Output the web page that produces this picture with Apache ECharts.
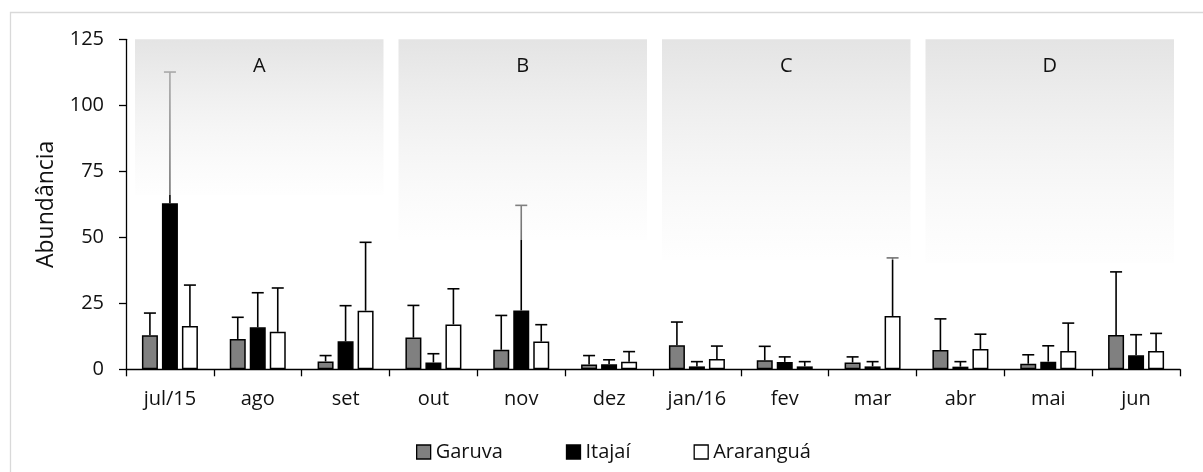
<!DOCTYPE html>
<html>
<head>
<meta charset="utf-8">
<script src="https://cdn.jsdelivr.net/npm/echarts@6/dist/echarts.min.js"></script>
<style>
  html, body { margin: 0; padding: 0; background: #fff; }
  #chart { width: 1203px; height: 472px; }
</style>
</head>
<body>
<div id="chart"></div>
<script>
// Monthly abundance (mean and standard deviation) at three sites
const categories = ['jul/15', 'ago', 'set', 'out', 'nov', 'dez', 'jan/16', 'fev', 'mar', 'abr', 'mai', 'jun'];
const seriesNames = ['Garuva', 'Itajaí', 'Araranguá'];

const garuvaMean    = [12.9, 11.5, 3.0, 12.0, 7.4, 1.8, 9.1, 3.4, 2.6, 7.3, 2.1, 13.0];
const garuvaSD      = [8.4, 8.2, 2.2, 12.2, 13.0, 3.4, 8.8, 5.3, 2.1, 11.8, 3.4, 23.9];
const itajaiMean    = [62.9, 15.9, 10.6, 2.6, 22.3, 1.9, 1.1, 2.8, 1.1, 1.0, 2.9, 5.3];
const itajaiSD      = [49.7, 13.1, 13.5, 3.3, 39.8, 1.7, 1.8, 1.9, 1.8, 1.9, 6.0, 7.8];
const araranguaMean = [16.4, 14.2, 22.2, 17.0, 10.5, 2.9, 3.9, 1.1, 20.2, 7.7, 6.9, 6.9];
const araranguaSD   = [15.5, 16.6, 25.9, 13.5, 6.4, 3.8, 4.9, 1.8, 22.0, 5.6, 10.6, 6.7];

const yTicks = [0, 25, 50, 75, 100, 125];

// Seasonal groups: first month index, last month index, label
const periods = [
  [0, 2, 'A'],
  [3, 5, 'B'],
  [6, 8, 'C'],
  [9, 11, 'D']
];
// How far down each shaded block reaches (axis units)
const periodFloor = [66, 49, 41.4, 40.3];

const FONT = '"Open Sans", Lato, sans-serif';
const TEXT = '#111111';
const BAR_W = 16;
const BAR_GAP = 4;
const fills = ['#808080', '#000000', '#ffffff'];
const means = [garuvaMean, itajaiMean, araranguaMean];
const sds = [garuvaSD, itajaiSD, araranguaSD];

const chart = echarts.init(document.getElementById('chart'), null, { renderer: 'canvas' });

const barSeries = seriesNames.map((name, s) => ({
  name: name,
  type: 'bar',
  data: means[s],
  barWidth: BAR_W,
  barGap: (BAR_GAP / BAR_W * 100) + '%',
  z: 2,
  itemStyle: { color: fills[s], borderColor: '#000', borderWidth: 1.5 },
  emphasis: { disabled: true }
}));

const errorSeries = seriesNames.map((name, s) => ({
  type: 'custom',
  z: 3,
  silent: true,
  data: means[s].map((m, i) => [i, m, sds[s][i]]),
  encode: { x: 0, y: 1 },
  renderItem: function (params, api) {
    const i = api.value(0), m = api.value(1), sd = api.value(2);
    const base = api.coord([i, m]);
    const top = api.coord([i, m + sd]);
    const x = base[0] + (s - 1) * (BAR_W + BAR_GAP);
    const st = { stroke: '#000', lineWidth: 1.6 };
    return {
      type: 'group',
      children: [
        { type: 'line', shape: { x1: x, y1: base[1], x2: x, y2: top[1] }, style: st },
        { type: 'line', shape: { x1: x - 6, y1: top[1], x2: x + 6, y2: top[1] }, style: st }
      ]
    };
  }
}));

// Translucent shaded blocks drawn over the error bars, grey at the top fading to white
const periodSeries = {
  type: 'custom',
  z: 6,
  silent: true,
  data: periods.map((p, k) => [p[0], p[1], periodFloor[k], k]),
  encode: { x: 0, y: 2 },
  renderItem: function (params, api) {
    const a = api.value(0), b = api.value(1), floor = api.value(2), k = api.value(3);
    const band = api.size([1, 0])[0];
    const x0 = api.coord([a, 125])[0] - band / 2 + 9;
    const x1 = api.coord([b, 125])[0] + band / 2 - 6;
    const y0 = api.coord([a, 125])[1];
    const y1 = api.coord([a, floor])[1];
    return {
      type: 'group',
      children: [
        {
          type: 'rect',
          shape: { x: x0, y: y0, width: x1 - x0, height: y1 - y0 },
          style: {
            fill: new echarts.graphic.LinearGradient(0, 0, 0, 1, [
              { offset: 0, color: 'rgba(221,221,221,0.8)' },
              { offset: 0.15, color: 'rgba(226,226,226,0.76)' },
              { offset: 1, color: 'rgba(253,253,253,0.45)' }
            ])
          }
        },
        {
          type: 'text',
          style: {
            text: periods[k][2],
            x: (x0 + x1) / 2,
            y: y0 + 27,
            align: 'center',
            verticalAlign: 'middle',
            fill: TEXT,
            font: '20px ' + FONT
          }
        }
      ]
    };
  }
};

chart.setOption({
  animation: false,
  backgroundColor: '#ffffff',
  textStyle: { fontFamily: FONT },
  graphic: [{
    type: 'rect',
    left: 8, top: 10,
    shape: { width: 1220, height: 500 },
    style: { fill: 'none', stroke: '#d9d9d9', lineWidth: 1.3 },
    silent: true
  }],
  grid: { left: 126, right: 23, top: 39.3, bottom: 102.7 },
  legend: {
    left: 416,
    top: 442,
    padding: 0,
    itemWidth: 14,
    itemHeight: 14,
    itemGap: 63,
    icon: 'rect',
    data: seriesNames,
    selectedMode: false,
    textStyle: { fontFamily: FONT, fontSize: 20, color: TEXT },
    itemStyle: { borderColor: '#000', borderWidth: 1.3 }
  },
  xAxis: {
    type: 'category',
    data: categories,
    axisLine: { lineStyle: { color: '#000', width: 1.3 } },
    axisTick: { show: true, length: 7, lineStyle: { color: '#000', width: 1.3 } },
    axisLabel: { color: TEXT, fontSize: 20, fontFamily: FONT, margin: 20 },
    splitLine: { show: false }
  },
  yAxis: {
    type: 'value',
    min: yTicks[0],
    max: yTicks[yTicks.length - 1],
    interval: yTicks[1] - yTicks[0],
    name: 'Abundância',
    nameLocation: 'middle',
    nameGap: 68,
    nameRotate: 90,
    nameTextStyle: { color: TEXT, fontSize: 23, fontFamily: FONT },
    axisLine: { show: true, lineStyle: { color: '#000', width: 1.3 } },
    axisTick: { show: true, length: 7, lineStyle: { color: '#000', width: 1.3 } },
    axisLabel: { color: TEXT, fontSize: 20, fontFamily: FONT, margin: 22 },
    splitLine: { show: false }
  },
  series: [...barSeries, ...errorSeries, periodSeries]
});
</script>
</body>
</html>
